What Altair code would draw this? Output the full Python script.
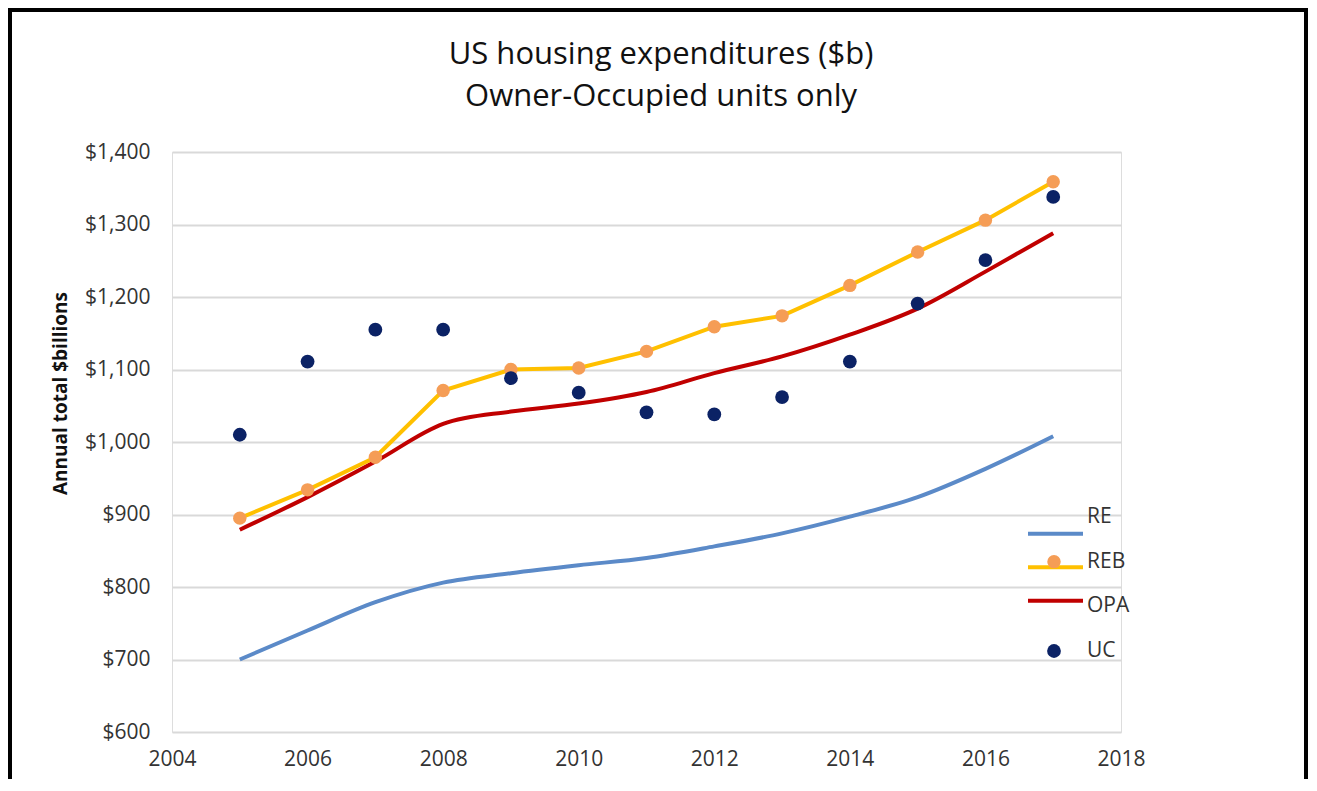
import altair as alt
import pandas as pd

years = [2005, 2006, 2007, 2008, 2009, 2010, 2011, 2012, 2013, 2014, 2015, 2016, 2017]
re_vals = [700, 740, 779, 806, 819, 830, 840, 856, 874, 897, 924, 963, 1008]
reb_vals = [895, 934, 979, 1071, 1100, 1102, 1125, 1159, 1174, 1216, 1262, 1306, 1359]
opa_vals = [879, 924, 973, 1025, 1042, 1053, 1069, 1095, 1118, 1148, 1184, 1235, 1288]
uc_vals = [1010, 1111, 1155, 1155, 1088, 1068, 1041, 1038, 1062, 1111, 1191, 1251, 1338]

series_names = ["RE", "REB", "OPA", "UC"]
x_ticks = [2004, 2006, 2008, 2010, 2012, 2014, 2016, 2018]
y_ticks = [600, 700, 800, 900, 1000, 1100, 1200, 1300, 1400]
title_lines = ["US housing expenditures ($b)", "Owner-Occupied units only"]
y_title = "Annual total $billions"

C_RE = "#5B8AC8"
C_REB_LINE = "#FFC000"
C_REB_PT = "#F59D56"
C_OPA = "#C00000"
C_UC = "#0B2265"
FONT = "Open Sans"

df = pd.DataFrame({"year": years, "RE": re_vals, "REB": reb_vals, "OPA": opa_vals, "UC": uc_vals})

x_enc = alt.X(
    "year:Q",
    scale=alt.Scale(domain=[2004, 2018], nice=False, zero=False),
    axis=alt.Axis(
        values=x_ticks, format="d", grid=False, domain=False, ticks=False,
        labelFont=FONT, labelFontSize=21, labelColor="#333333", labelPadding=16,
        labelFlush=False, labelOverlap=False, title=None,
    ),
)

def y_enc(field, axis=True):
    if axis:
        ax = alt.Axis(
            values=y_ticks, format="$,.0f", grid=True, gridColor="#D9D9D9", gridWidth=2,
            domain=False, ticks=False, labelFont=FONT, labelFontSize=21,
            labelColor="#333333", labelPadding=22, title=y_title,
            titleFont=FONT, titleFontSize=19, titleFontWeight="bold", titleColor="#111111",
            titleAngle=270, titleAlign="center", titleBaseline="middle",
            titleX=-112, titleY=241,
        )
    else:
        ax = None
    return alt.Y(field + ":Q", scale=alt.Scale(domain=[600, 1400], nice=False, zero=False), axis=ax)

base = alt.Chart(df)
re_line = base.mark_line(color=C_RE, strokeWidth=4, interpolate="monotone").encode(x=x_enc, y=y_enc("RE"))
opa_line = base.mark_line(color=C_OPA, strokeWidth=4, interpolate="monotone").encode(x=x_enc, y=y_enc("OPA", False))
reb_line = base.mark_line(color=C_REB_LINE, strokeWidth=4).encode(x=x_enc, y=y_enc("REB", False))
reb_pts = base.mark_circle(color=C_REB_PT, size=180, opacity=1).encode(x=x_enc, y=y_enc("REB", False))
uc_pts = base.mark_circle(color=C_UC, size=190, opacity=1).encode(x=x_enc, y=y_enc("UC", False))

# manual legend
leg = pd.DataFrame({"series": series_names})
leg_y = alt.Y("series:N", scale=alt.Scale(domain=series_names, range=[365, 499], padding=0), axis=None)
lbase = alt.Chart(leg)
leg_colors = {"RE": C_RE, "REB": C_REB_LINE, "OPA": C_OPA}
leg_layers = []
for s, c in leg_colors.items():
    leg_layers.append(
        lbase.transform_filter(alt.datum.series == s)
        .mark_rule(color=c, strokeWidth=4)
        .encode(x=alt.value(856), x2=alt.value(911), y=leg_y)
    )
leg_layers.append(
    lbase.transform_filter(alt.datum.series == "REB")
    .mark_circle(color=C_REB_PT, size=180, opacity=1)
    .encode(x=alt.value(882), y=leg_y)
)
leg_layers.append(
    lbase.transform_filter(alt.datum.series == "UC")
    .mark_circle(color=C_UC, size=190, opacity=1)
    .encode(x=alt.value(882), y=leg_y)
)
leg_layers.append(
    lbase.mark_text(align="left", baseline="middle", font=FONT, fontSize=21, color="#333333")
    .encode(x=alt.value(915), y=leg_y, text="series:N")
)

# outer frame and title
dummy = alt.Chart(pd.DataFrame({"a": [0]}))
frame_top = dummy.mark_rule(color="black", strokeWidth=4).encode(
    x=alt.value(-162), x2=alt.value(1134), y=alt.value(-142))
frame_left = dummy.mark_rule(color="black", strokeWidth=4).encode(
    x=alt.value(-162), y=alt.value(-144), y2=alt.value(640))
frame_right = dummy.mark_rule(color="black", strokeWidth=4).encode(
    x=alt.value(1134), y=alt.value(-144), y2=alt.value(640))
title_mark = dummy.mark_text(
    text=title_lines, font=FONT, fontSize=31, color="#111111", align="center",
    baseline="top", lineHeight=42,
).encode(x=alt.value(489), y=alt.value(-112))

chart = alt.layer(
    re_line, opa_line, reb_line, reb_pts, uc_pts, *leg_layers,
    frame_top, frame_left, frame_right, title_mark,
).resolve_scale(y="independent").properties(
    width=949,
    height=580,
    autosize=alt.AutoSizeParams(type="none"),
    padding={"left": 164, "top": 144, "right": 188, "bottom": 47},
).configure_view(stroke=None).configure(background="white")

chart.save("out.html", embed_options={"renderer": "svg", "actions": False})
